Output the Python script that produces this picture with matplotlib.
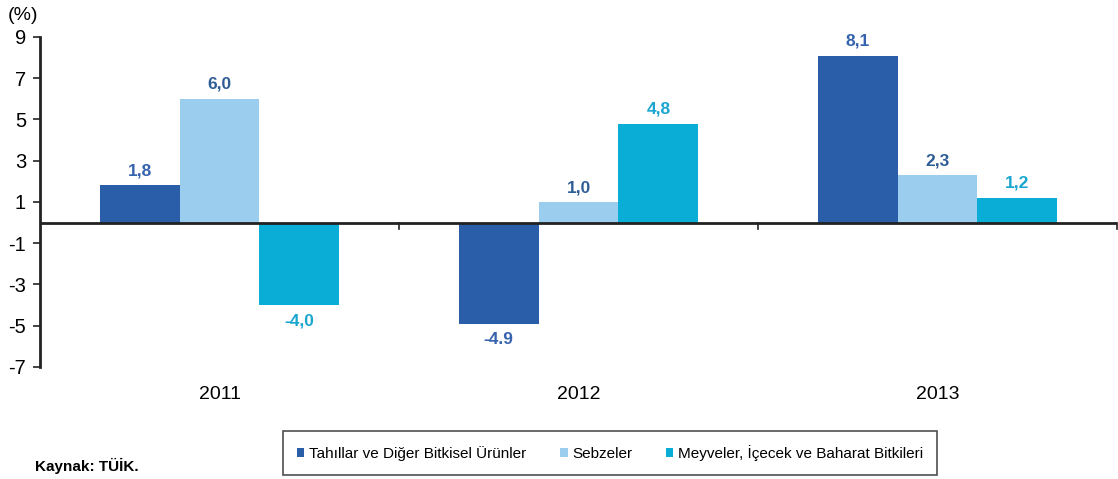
import matplotlib
matplotlib.use("Agg")
import matplotlib.pyplot as plt
from matplotlib.patches import Patch
import numpy as np

plt.rcParams['font.family'] = ['Liberation Sans', 'DejaVu Sans']

years = ["2011", "2012", "2013"]
series_names = ["Tahıllar ve Diğer Bitkisel Ürünler", "Sebzeler",
                "Meyveler, İçecek ve Baharat Bitkileri"]
tahillar = [1.8, -4.9, 8.1]
sebzeler = [6.0, 1.0, 2.3]
meyveler = [-4.0, 4.8, 1.2]
tahillar_labels = ["1,8", "-4.9", "8,1"]
sebzeler_labels = ["6,0", "1,0", "2,3"]
meyveler_labels = ["-4,0", "4,8", "1,2"]
yticks = [9, 7, 5, 3, 1, -1, -3, -5, -7]

colors = ["#2a5ea9", "#9bcdef", "#0aadd5"]
label_colors = ["#3563ad", "#2f5d96", "#1aa6d0"]

fig = plt.figure(figsize=(11.18, 4.79), dpi=100)
ax = fig.add_axes([40/1118, 1-367/479, 1077/1118, 330/479])

x = np.arange(len(years))
w = 0.2228
data = [tahillar, sebzeler, meyveler]
labels = [tahillar_labels, sebzeler_labels, meyveler_labels]
for i, (vals, labs) in enumerate(zip(data, labels)):
    pos = x + (i - 1) * w
    bars = ax.bar(pos, vals, width=w, color=colors[i], label=series_names[i], zorder=2)
    for b, v, t in zip(bars, vals, labs):
        cx = b.get_x() + b.get_width() / 2
        if v >= 0:
            ax.annotate(t, (cx, v), xytext=(0, 5), textcoords="offset points",
                        ha="center", va="bottom", fontsize=12.5, fontweight="bold",
                        color=label_colors[i])
        else:
            ax.annotate(t, (cx, v), xytext=(0, -6), textcoords="offset points",
                        ha="center", va="top", fontsize=12.5, fontweight="bold",
                        color=label_colors[i])

ax.set_xlim(-0.5, len(years) - 0.5)
ax.set_ylim(-7, 9)
ax.set_yticks(yticks)
ax.set_yticklabels([str(v) for v in yticks], fontsize=14.5)
ax.tick_params(axis='y', direction='out', length=5, width=1.2, color="#222222", pad=5)
ax.set_xticks(x)
ax.set_xticklabels(years, fontsize=14)
ax.tick_params(axis='x', length=0, pad=14)

for s in ["top", "right", "bottom"]:
    ax.spines[s].set_visible(False)
ax.spines["left"].set_linewidth(2)
ax.spines["left"].set_color("#222222")
ax.axhline(0, color="#222222", linewidth=2, zorder=3)
# category separator ticks on the zero line
for sx in np.arange(0.5, len(years), 1.0):
    ax.plot([sx, sx], [0, -0.3], color="#222222", linewidth=1.2, zorder=3, clip_on=False)

fig.text(8/1118, 1-15/479, "(%)", fontsize=14, va="center", ha="left")
fig.text(35/1118, 1-466/479, "Kaynak: TÜİK.", fontsize=11, fontweight="bold", va="center", ha="left")

handles = [Patch(facecolor=c, edgecolor='none') for c in colors]
leg = fig.legend(handles, series_names, loc="center", bbox_to_anchor=(610/1118, 1-453/479),
                 ncol=3, fontsize=11, frameon=True, fancybox=False, edgecolor="#222222",
                 handlelength=0.5, handleheight=0.5, handletextpad=0.3, columnspacing=2.2,
                 borderpad=0.9, borderaxespad=0)
leg.get_frame().set_linewidth(1.2)

fig.savefig("out.png", dpi=100)
